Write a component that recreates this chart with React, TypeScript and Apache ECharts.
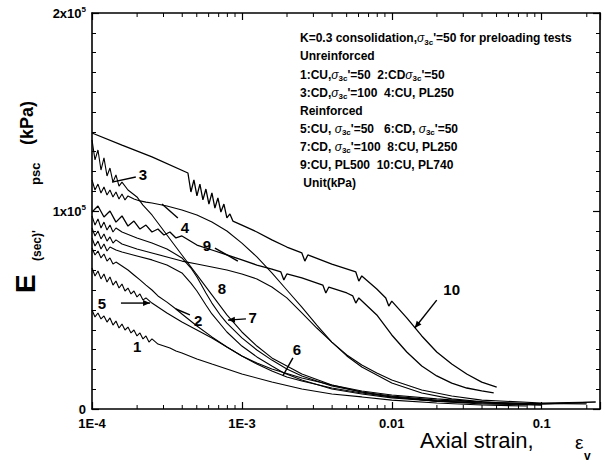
import React, { useEffect, useRef } from "react";
import * as echarts from "echarts";

const FONT = '"Liberation Sans", Arial, Helvetica, sans-serif';

// Axial strain (-) , secant modulus E (kPa)
const curve1: [number, number][] = [
  [1.0e-4, 50000], [1.047e-4, 46500], [1.096e-4, 48500], [1.148e-4, 45500], [1.202e-4, 47000],
  [1.259e-4, 43900], [1.318e-4, 46000], [1.38e-4, 42400], [1.445e-4, 44400], [1.514e-4, 40900],
  [1.585e-4, 42900], [1.66e-4, 39900], [1.738e-4, 41400], [1.82e-4, 38400], [1.905e-4, 39900],
  [1.995e-4, 36900], [2.089e-4, 38400], [2.188e-4, 35400], [2.291e-4, 36900], [2.399e-4, 33800],
  [2.512e-4, 35400], [2.754e-4, 32800], [3.02e-4, 31800], [3.311e-4, 30800], [3.631e-4, 29300],
  [3.981e-4, 28300], [5.012e-4, 25300], [6.31e-4, 22700], [7.943e-4, 20200], [1.0e-3, 17700],
  [1.585e-3, 13600], [2.512e-3, 10100], [3.981e-3, 7600], [6.31e-3, 6100], [0.01, 4500],
  [0.01995, 3000], [0.03981, 2000], [0.07943, 1500],
];
const curve2: [number, number][] = [
  [1.0e-4, 81300], [1.047e-4, 77800], [1.096e-4, 79800], [1.148e-4, 76300], [1.202e-4, 78300],
  [1.259e-4, 74700], [1.318e-4, 76300], [1.38e-4, 73200], [1.445e-4, 74200], [1.585e-4, 72200],
  [1.738e-4, 70200], [1.905e-4, 67700], [2.089e-4, 65200], [2.291e-4, 62600], [2.512e-4, 60100],
  [2.754e-4, 57100], [3.162e-4, 54000], [3.631e-4, 50500], [3.981e-4, 48000], [5.012e-4, 41900],
  [6.31e-4, 36400], [7.943e-4, 31300], [1.0e-3, 26800], [1.259e-3, 23200], [1.585e-3, 20200],
  [2.512e-3, 15700], [3.981e-3, 12100], [6.31e-3, 9100], [0.01, 7100], [0.01995, 5100],
  [0.03981, 3500], [0.1, 2500],
];
const curve3: [number, number][] = [
  [1.0e-4, 135900], [1.047e-4, 125800], [1.096e-4, 130800], [1.148e-4, 120700], [1.202e-4, 126800],
  [1.259e-4, 117700], [1.318e-4, 121700], [1.38e-4, 114600], [1.445e-4, 118200], [1.514e-4, 112600],
  [1.585e-4, 114600], [1.738e-4, 110600], [1.995e-4, 107100], [2.188e-4, 103000], [2.512e-4, 98000],
  [3.162e-4, 87900], [3.981e-4, 77800], [5.012e-4, 67700], [6.31e-4, 57600], [7.943e-4, 47500],
  [1.0e-3, 38900], [1.259e-3, 31800], [1.585e-3, 25800], [2.512e-3, 17700], [3.981e-3, 12100],
  [6.31e-3, 8600], [0.01, 6100], [0.01995, 4000], [0.03981, 2500], [0.1, 2000],
];
const curve4: [number, number][] = [
  [1.0e-4, 115700], [1.047e-4, 110600], [1.096e-4, 113600], [1.148e-4, 109100], [1.202e-4, 112100],
  [1.259e-4, 108100], [1.318e-4, 110600], [1.38e-4, 107100], [1.445e-4, 109600], [1.514e-4, 106100],
  [1.585e-4, 108600], [1.66e-4, 105600], [1.738e-4, 107600], [1.905e-4, 106100], [2.089e-4, 105100],
  [2.291e-4, 104500], [2.512e-4, 104000], [3.162e-4, 102500], [3.981e-4, 100500], [5.012e-4, 98000],
  [6.31e-4, 94400], [7.943e-4, 89900], [1.0e-3, 83800], [1.259e-3, 76800], [1.585e-3, 68700],
  [1.995e-3, 60100], [2.512e-3, 51500], [3.162e-3, 42400], [3.981e-3, 33800], [5.012e-3, 26800],
  [6.31e-3, 21200], [0.01, 13100], [0.01585, 8100], [0.02512, 5100], [0.05012, 3000], [0.1995, 2500],
];
const curve5: [number, number][] = [
  [1.0e-4, 71200], [1.047e-4, 67200], [1.096e-4, 69700], [1.148e-4, 65700], [1.202e-4, 68200],
  [1.259e-4, 64100], [1.318e-4, 66700], [1.38e-4, 62600], [1.445e-4, 64600], [1.514e-4, 61100],
  [1.585e-4, 63100], [1.66e-4, 59600], [1.738e-4, 61100], [1.82e-4, 58100], [1.905e-4, 59600],
  [1.995e-4, 56600], [2.089e-4, 58100], [2.188e-4, 55100], [2.291e-4, 56100], [2.512e-4, 53500],
  [3.162e-4, 48500], [3.981e-4, 43900], [5.012e-4, 39900], [6.31e-4, 35900], [7.943e-4, 31300],
  [1.0e-3, 26800], [1.259e-3, 22700], [1.585e-3, 19200], [1.995e-3, 16200], [2.512e-3, 14100],
  [3.981e-3, 10600], [6.31e-3, 8100], [0.01, 6100], [0.01995, 4000], [0.03981, 3000], [0.1, 2000],
];
const curve6: [number, number][] = [
  [1.0e-4, 86400], [1.047e-4, 82300], [1.096e-4, 84800], [1.148e-4, 80800], [1.202e-4, 83300],
  [1.259e-4, 79800], [1.318e-4, 81800], [1.445e-4, 80300], [1.585e-4, 79300], [1.995e-4, 77300],
  [2.512e-4, 75300], [3.162e-4, 72700], [3.981e-4, 68700], [4.571e-4, 63600], [5.012e-4, 59600],
  [5.754e-4, 52500], [6.31e-4, 48000], [7.943e-4, 38900], [1.0e-3, 31800], [1.259e-3, 26300],
  [1.585e-3, 21700], [1.905e-3, 18200], [2.512e-3, 14600], [3.981e-3, 10100], [6.31e-3, 7600],
  [0.01, 5600], [0.01995, 4000], [0.03981, 3000], [0.1, 2500], [0.2291, 3500],
];
const curve7: [number, number][] = [
  [1.0e-4, 97500], [1.047e-4, 92900], [1.096e-4, 96000], [1.148e-4, 91400], [1.202e-4, 94400],
  [1.259e-4, 90400], [1.318e-4, 92900], [1.38e-4, 89400], [1.445e-4, 91400], [1.585e-4, 89400],
  [1.995e-4, 86400], [2.512e-4, 83800], [3.162e-4, 80800], [3.981e-4, 76300], [4.571e-4, 71200],
  [5.012e-4, 66700], [5.754e-4, 58600], [6.31e-4, 53500], [7.244e-4, 47000], [7.943e-4, 43400],
  [1.0e-3, 35900], [1.259e-3, 29800], [1.585e-3, 24700], [1.995e-3, 20200], [2.512e-3, 16700],
  [3.981e-3, 11600], [6.31e-3, 8600], [0.01, 6600], [0.01995, 4500], [0.03981, 3500], [0.1, 2500],
  [0.1995, 3000],
];
const curve8: [number, number][] = [
  [1.0e-4, 91400], [1.047e-4, 87400], [1.096e-4, 89900], [1.148e-4, 85900], [1.202e-4, 88400],
  [1.259e-4, 84800], [1.318e-4, 86900], [1.38e-4, 83800], [1.445e-4, 85400], [1.585e-4, 83300],
  [1.738e-4, 82300], [1.995e-4, 80800], [2.512e-4, 78800], [3.162e-4, 76800], [3.981e-4, 74700],
  [5.012e-4, 73200], [6.31e-4, 71700], [7.943e-4, 70200], [1.0e-3, 68200], [1.259e-3, 65700],
  [1.585e-3, 61600], [1.995e-3, 56100], [2.512e-3, 48500], [3.162e-3, 40900], [3.981e-3, 33800],
  [5.012e-3, 27300], [6.31e-3, 22200], [7.943e-3, 18200], [0.01, 14600], [0.01585, 9600],
  [0.02512, 6600], [0.03981, 4500], [0.1, 3000], [0.2291, 3500],
];
const curve9: [number, number][] = [
  [1.0e-4, 99500], [1.096e-4, 102500], [1.202e-4, 97000], [1.318e-4, 100000], [1.445e-4, 94400],
  [1.585e-4, 97500], [1.738e-4, 92400], [1.905e-4, 94900], [2.089e-4, 90900], [2.291e-4, 92900],
  [2.512e-4, 89400], [2.754e-4, 90900], [3.02e-4, 87900], [3.311e-4, 89400], [3.631e-4, 86400],
  [3.981e-4, 87400], [5.012e-4, 82800], [6.31e-4, 80300], [7.943e-4, 77800], [1.0e-3, 75300],
  [1.259e-3, 72700], [1.585e-3, 70700], [1.82e-3, 69200], [1.905e-3, 65200], [1.995e-3, 68200],
  [2.512e-3, 66200], [3.467e-3, 62600], [3.631e-3, 58600], [3.802e-3, 61600], [5.012e-3, 58600],
  [5.495e-3, 57100], [5.754e-3, 53500], [6.026e-3, 56100], [7.943e-3, 47500], [0.01, 37400],
  [0.01259, 28800], [0.01585, 21700], [0.01995, 16700], [0.02512, 13100], [0.03162, 10600],
  [0.03981, 9100], [0.04786, 8100],
];
const curve10: [number, number][] = [
  [1.0e-4, 139400], [1.585e-4, 133300], [2.512e-4, 127300], [4.365e-4, 119200], [4.571e-4, 109600],
  [4.786e-4, 115700], [5.012e-4, 107600], [5.248e-4, 113600], [5.495e-4, 105600], [5.754e-4, 111100],
  [6.026e-4, 103500], [6.31e-4, 109100], [6.607e-4, 101500], [6.918e-4, 106600], [7.244e-4, 99500],
  [7.586e-4, 103500], [7.943e-4, 96500], [8.318e-4, 98500], [8.71e-4, 94900], [1.0e-3, 92900],
  [1.259e-3, 89400], [1.585e-3, 85400], [1.995e-3, 81800], [2.512e-3, 78800], [2.63e-3, 74700],
  [2.754e-3, 77800], [3.981e-3, 73200], [5.754e-3, 69200], [6.026e-3, 64600], [6.31e-3, 67200],
  [7.943e-3, 60600], [9.12e-3, 56100], [9.55e-3, 52000], [0.01, 54500], [0.01259, 46000],
  [0.01585, 36900], [0.01995, 28800], [0.02512, 22700], [0.03162, 17700], [0.03981, 13600],
  [0.05012, 11100],
];
const curves = [curve1, curve2, curve3, curve4, curve5, curve6, curve7, curve8, curve9, curve10];
const curveNames = ["1", "2", "3", "4", "5", "6", "7", "8", "9", "10"];

// curve labels: text position, optional leader line [x1,y1,x2,y2], arrow head
const labelText = ["1", "2", "3", "4", "5", "6", "7", "8", "9", "10"];
const labelPos: [number, number][] = [
  [2.0e-4, 31800], [5.1e-4, 44900], [2.19e-4, 118200], [4.17e-4, 91900], [1.166e-4, 53500],
  [2.33e-3, 29800], [1.18e-3, 46000], [7.36e-4, 61100], [5.84e-4, 82800], [0.0251, 60600],
];
const labelLines: ([number, number, number, number] | null)[] = [
  null,
  [4.5e-4, 47500, 3.63e-4, 50500],
  [1.96e-4, 117200, 1.36e-4, 114600],
  [3.74e-4, 96500, 2.93e-4, 103500],
  [1.56e-4, 53500, 2.44e-4, 53500],
  [2.19e-3, 25800, 1.875e-3, 16700],
  [1.064e-3, 45500, 8.07e-4, 44900],
  null,
  [6.61e-4, 81300, 9.4e-4, 74700],
  [0.01995, 55000, 0.01423, 40900],
];
const labelArrow = [false, false, false, false, true, false, true, false, false, true];

const xTickLabels: Record<string, string> = { "-4": "1E-4", "-3": "1E-3", "-2": "0.01", "-1": "0.1" };
const yTickLabels: Record<string, string> = { "0": "0", "100000": "1x10{sup|5}", "200000": "2x10{sup|5}" };
const minorTickStrains = [
  2e-4, 3e-4, 4e-4, 5e-4, 6e-4, 7e-4, 8e-4, 9e-4,
  2e-3, 3e-3, 4e-3, 5e-3, 6e-3, 7e-3, 8e-3, 9e-3,
  0.02, 0.03, 0.04, 0.05, 0.06, 0.07, 0.08, 0.09, 0.2,
];

const legendLines = [
  "K=0.3 consolidation,{g|σ}{s|3c}'=50 for preloading tests",
  "Unreinforced",
  "1:CU,{g|σ}{s|3c}'=50  2:CD{g|σ}{s|3c}'=50",
  "3:CD,{g|σ}{s|3c}'=100  4:CU, PL250",
  "Reinforced",
  "5:CU, {g|σ}{s|3c}'=50   6:CD, {g|σ}{s|3c}'=50",
  "7:CD, {g|σ}{s|3c}'=100  8:CU, PL250",
  "9:CU, PL500  10:CU, PL740",
  " Unit(kPa)",
];

const X_MIN = -4;
const X_MAX = Math.log10(0.245);
const Y_MAX = 200000;

export default function App() {
  const ref = useRef<HTMLDivElement>(null);
  useEffect(() => {
    if (!ref.current) return;
    const chart = echarts.init(ref.current, null, { renderer: "svg" });
    const axisLine = { show: true, onZero: false, lineStyle: { color: "#000", width: 1.6 } };
    const axisTick = { show: true, inside: true, length: 7, lineStyle: { color: "#000", width: 1.2 } };
    const minorTick = { show: true, splitNumber: 10, length: 4, lineStyle: { color: "#000", width: 1 } };
    const xLabel = {
      margin: 8, color: "#000", fontSize: 13, fontWeight: "bold", fontFamily: FONT,
      formatter: (v: number) => xTickLabels[String(Math.round(v * 1000) / 1000)] || "",
    };
    const yLabel = {
      margin: 6, color: "#000", fontSize: 13, fontWeight: "bold", fontFamily: FONT, lineHeight: 16,
      formatter: (v: number) => yTickLabels[String(v)] || "",
      rich: { sup: { fontSize: 8, fontWeight: "bold", fontFamily: FONT, color: "#000", verticalAlign: "top", lineHeight: 8 } },
    };

    const lineSeries = curves.map((c, i) => ({
      type: "line",
      name: curveNames[i],
      xAxisIndex: 0,
      yAxisIndex: 0,
      data: c.map(([s, e]) => [Math.log10(s), e]),
      showSymbol: false,
      symbol: "none",
      clip: true,
      lineStyle: { color: "#000", width: i >= 8 ? 1.3 : 1.1 },
      silent: true,
    }));

    const minorSeries = {
      type: "custom",
      xAxisIndex: 0,
      yAxisIndex: 0,
      silent: true,
      clip: false,
      encode: { x: 0, y: 1 },
      data: minorTickStrains.map((v) => [Math.log10(v), 0]),
      renderItem: (_p: any, api: any) => {
        const x = api.value(0);
        const b = api.coord([x, 0]);
        const t = api.coord([x, Y_MAX]);
        return {
          type: "group",
          children: [
            { type: "line", shape: { x1: b[0], y1: b[1], x2: b[0], y2: b[1] - 4 }, style: { stroke: "#000", lineWidth: 1 } },
            { type: "line", shape: { x1: t[0], y1: t[1], x2: t[0], y2: t[1] + 4 }, style: { stroke: "#000", lineWidth: 1 } },
          ],
        };
      },
    };

    const labelSeries = {
      type: "custom",
      xAxisIndex: 0,
      yAxisIndex: 0,
      silent: true,
      clip: false,
      encode: { x: 0, y: 1 },
      data: labelPos.map(([s, e]) => [Math.log10(s), e]),
      renderItem: (params: any, api: any) => {
        const i = params.dataIndex;
        const p = api.coord([api.value(0), api.value(1)]);
        const children: any[] = [
          {
            type: "text",
            x: p[0],
            y: p[1],
            style: {
              text: labelText[i], fill: "#000", fontSize: 15, fontWeight: "bold", fontFamily: FONT,
              align: "center", verticalAlign: "middle", textAlign: "center", textVerticalAlign: "middle",
            },
          },
        ];
        const ln = labelLines[i];
        if (ln) {
          const a = api.coord([Math.log10(ln[0]), ln[1]]);
          const b = api.coord([Math.log10(ln[2]), ln[3]]);
          children.push({ type: "line", shape: { x1: a[0], y1: a[1], x2: b[0], y2: b[1] }, style: { stroke: "#000", lineWidth: 1.4 } });
          if (labelArrow[i]) {
            const dx = b[0] - a[0];
            const dy = b[1] - a[1];
            const L = Math.sqrt(dx * dx + dy * dy) || 1;
            const ux = dx / L, uy = dy / L;
            const hl = 7, hw = 3;
            children.push({
              type: "polygon",
              shape: {
                points: [
                  [b[0], b[1]],
                  [b[0] - ux * hl - uy * hw, b[1] - uy * hl + ux * hw],
                  [b[0] - ux * hl + uy * hw, b[1] - uy * hl - ux * hw],
                ],
              },
              style: { fill: "#000" },
            });
          }
        }
        return { type: "group", children };
      },
    };

    const legendRich = {
      s: { fontSize: 8, fontWeight: "bold", fontFamily: FONT, fill: "#000", color: "#000", verticalAlign: "bottom", lineHeight: 9 },
      g: { fontSize: 12, fontStyle: "italic", fontFamily: FONT, fill: "#000", color: "#000", lineHeight: 16 },
    };
    const legendGraphics = legendLines.map((t, i) => ({
      type: "text",
      x: 300,
      y: 38.3 + i * 18.1,
      silent: true,
      style: {
        text: t, fill: "#000", fontSize: 12, fontWeight: "bold", fontFamily: FONT, lineHeight: 16,
        align: "left", verticalAlign: "middle", textAlign: "left", textVerticalAlign: "middle",
        rich: legendRich,
      },
    }));

    const tstyle = (text: string, size: number, weight = "bold") => ({
      text, fill: "#000", fontSize: size, fontWeight: weight, fontFamily: FONT,
      align: "left", verticalAlign: "middle", textAlign: "left", textVerticalAlign: "middle",
    });

    const yTitle = {
      type: "group",
      x: 25,
      y: 293,
      rotation: Math.PI / 2,
      silent: true,
      children: [
        { type: "text", x: 0, y: 0, style: tstyle("E", 28) },
        { type: "text", x: 32, y: 12, style: tstyle("(sec)'", 12) },
        { type: "text", x: 108, y: 10, style: tstyle("psc", 13) },
        { type: "text", x: 148, y: 2, style: tstyle("(kPa)", 18) },
      ],
    };
    const xTitle = [
      { type: "text", x: 420, y: 440, silent: true, style: tstyle("Axial strain,", 22, "normal") },
      { type: "text", x: 575, y: 442, silent: true, style: tstyle("ε", 19, "normal") },
      { type: "text", x: 584, y: 456, silent: true, style: tstyle("v", 12, "bold") },
    ];

    chart.setOption({
      animation: false,
      backgroundColor: "#fff",
      grid: { left: 92, right: 6, top: 13, bottom: 56, containLabel: false },
      xAxis: [
        {
          type: "value", min: X_MIN, max: X_MAX, interval: 1, position: "bottom",
          axisLine, axisTick, axisLabel: xLabel, splitLine: { show: false },
        },
        {
          type: "value", min: X_MIN, max: X_MAX, interval: 1, position: "top",
          axisLine, axisTick, axisLabel: { show: false }, splitLine: { show: false },
        },
      ],
      yAxis: [
        {
          type: "value", min: 0, max: Y_MAX, interval: 100000, position: "left",
          axisLine, axisTick, minorTick, axisLabel: yLabel, splitLine: { show: false }, minorSplitLine: { show: false },
        },
        {
          type: "value", min: 0, max: Y_MAX, interval: 100000, position: "right",
          axisLine, axisTick, minorTick, axisLabel: { show: false }, splitLine: { show: false }, minorSplitLine: { show: false },
        },
      ],
      graphic: [...legendGraphics, yTitle, ...xTitle],
      series: [...lineSeries, minorSeries, labelSeries],
    });
    return () => chart.dispose();
  }, []);
  return <div ref={ref} style={{ width: 606, height: 465, position: "absolute", left: 0, top: 0 }} />;
}
